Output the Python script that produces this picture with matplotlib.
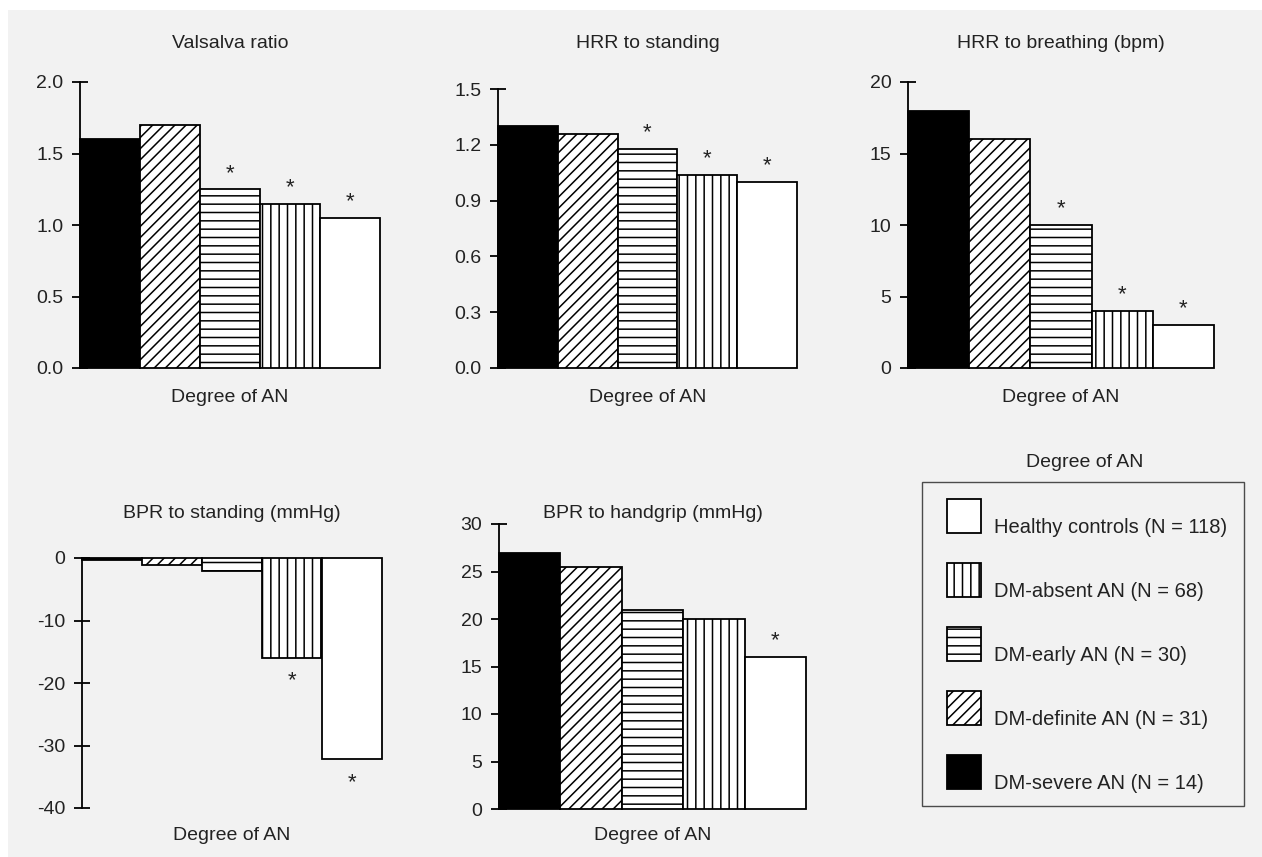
import matplotlib
matplotlib.use("Agg")
import matplotlib.pyplot as plt
from matplotlib.patches import Patch, Rectangle
from matplotlib.legend_handler import HandlerPatch
from matplotlib.ticker import FormatStrFormatter
import matplotlib.transforms as mtransforms

plt.rcParams['font.family'] = ['Liberation Sans', 'DejaVu Sans']
plt.rcParams['axes.unicode_minus'] = False
plt.rcParams['hatch.linewidth'] = 1.1
plt.rcParams['hatch.color'] = 'black'

# groups, left to right in each panel
groups = ['DM-severe AN', 'DM-definite AN', 'DM-early AN', 'DM-absent AN', 'Healthy controls']
group_n = [14, 31, 30, 68, 118]
hatches = ['', '///', '--', '||', '']
faces = ['black', 'white', 'white', 'white', 'white']

# values
valsalva = [1.6, 1.7, 1.25, 1.15, 1.05]
hrr_standing = [1.30, 1.26, 1.18, 1.04, 1.00]
hrr_breathing = [18, 16, 10, 4, 3]
bpr_standing = [-0.3, -1.1, -2.1, -16, -32.2]
bpr_handgrip = [27, 25.5, 21, 20, 16]

# significance marks (*) per group
sig_valsalva = [False, False, True, True, True]
sig_hrr_standing = [False, False, True, True, True]
sig_hrr_breathing = [False, False, True, True, True]
sig_bpr_standing = [False, False, False, True, True]
sig_bpr_handgrip = [False, False, False, False, True]

W, H = 1262, 857
fig = plt.figure(figsize=(W / 100, H / 100), dpi=100)
fig.patch.set_facecolor('white')
fig.patches.append(Rectangle((8 / W, 0), 1 - 8 / W, 1 - 10 / H, transform=fig.transFigure,
                             facecolor='#f2f2f2', edgecolor='none', zorder=-10))

FS = 14
TXT = '#222222'

panels = [
    # title, values, sig, ylim, yticks, fmt, rect in pixels (left, right, bottom_px, top_px), row
    ('Valsalva ratio', valsalva, sig_valsalva, (0, 2.0), [0, 0.5, 1.0, 1.5, 2.0], '%.1f', (80, 380, 368, 82), 0),
    ('HRR to standing', hrr_standing, sig_hrr_standing, (0, 1.5), [0, 0.3, 0.6, 0.9, 1.2, 1.5], '%.1f', (498, 797, 368, 89), 0),
    ('HRR to breathing (bpm)', hrr_breathing, sig_hrr_breathing, (0, 20), [0, 5, 10, 15, 20], '%d', (908, 1214, 368, 82), 0),
    ('BPR to standing (mmHg)', bpr_standing, sig_bpr_standing, (-40, 0), [-40, -30, -20, -10, 0], '%d', (82, 382, 808, 558), 1),
    ('BPR to handgrip (mmHg)', bpr_handgrip, sig_bpr_handgrip, (0, 30), [0, 5, 10, 15, 20, 25, 30], '%d', (499, 806, 809, 524), 1),
]

title_y = [1 - 43 / H, 1 - 513 / H]
xlabel_y = [1 - 397 / H, 1 - 835 / H]

for title, vals, sig, ylim, yt, fmt, (l, r, b, t), row in panels:
    ax = fig.add_axes([l / W, 1 - b / H, (r - l) / W, (b - t) / H])
    ax.patch.set_visible(False)
    ax.set_axisbelow(True)
    x = list(range(len(vals)))
    bars = ax.bar(x, vals, width=1.0, color=faces, edgecolor='black', linewidth=1.3, clip_on=False, zorder=2)
    for bar, h in zip(bars, hatches):
        bar.set_hatch(h)
    ax.set_xlim(-0.5, len(vals) - 0.5)
    ax.set_ylim(*ylim)
    ax.set_yticks(yt)
    ax.yaxis.set_major_formatter(FormatStrFormatter(fmt))
    ax.set_xticks([])
    for s in ['top', 'right', 'bottom']:
        ax.spines[s].set_visible(False)
    ax.spines['left'].set_linewidth(1.3)
    ax.spines['left'].set_zorder(3)
    ax.tick_params(axis='y', direction='inout', length=12, width=1.3, pad=6, labelsize=FS, labelcolor=TXT)

    for xi, v, s in zip(x, vals, sig):
        if not s:
            continue
        if v >= 0:
            ax.annotate('*', (xi, v), xytext=(0, 4), textcoords='offset points',
                        ha='center', va='bottom', fontsize=16, color=TXT, annotation_clip=False)
        else:
            ax.annotate('*', (xi, v), xytext=(0, -9), textcoords='offset points',
                        ha='center', va='top', fontsize=16, color=TXT, annotation_clip=False)

    tr = mtransforms.blended_transform_factory(ax.transAxes, fig.transFigure)
    ax.text(0.5, title_y[row], title, transform=tr, ha='center', va='center', fontsize=FS, color=TXT)
    ax.text(0.5, xlabel_y[row], 'Degree of AN', transform=tr, ha='center', va='center', fontsize=FS, color=TXT)


# legend swatch: square, nudged right inside the handle box
def swatch(legend, orig_handle, xdescent, ydescent, width, height, fontsize):
    return Rectangle((-xdescent + 5.8, -ydescent), 24.5, height)


LFS = 14.5
handles = []
for i in reversed(range(len(groups))):
    handles.append(Patch(facecolor=faces[i], edgecolor='black', hatch=hatches[i], linewidth=1.3,
                         label=f'{groups[i]} (N = {group_n[i]})'))
leg = fig.legend(handles=handles, loc='upper left', bbox_to_anchor=(922 / W, 1 - 482 / H),
                 borderaxespad=0, fontsize=LFS, frameon=True, fancybox=False,
                 handlelength=2.086, handleheight=2.2226, handletextpad=0.646,
                 labelspacing=1.49, borderpad=0.845,
                 handler_map={Patch: HandlerPatch(patch_func=swatch)})
leg.get_frame().set_facecolor('none')
leg.get_frame().set_edgecolor('#222222')
leg.get_frame().set_linewidth(1.0)
for t in leg.get_texts():
    t.set_color(TXT)
    t.set_y(-11)  # text sits on the swatch bottom
fig.text(1085 / W, 1 - 463 / H, 'Degree of AN', ha='center', va='center', fontsize=FS, color=TXT)

fig.savefig('out.png', dpi=100, facecolor=fig.get_facecolor())
